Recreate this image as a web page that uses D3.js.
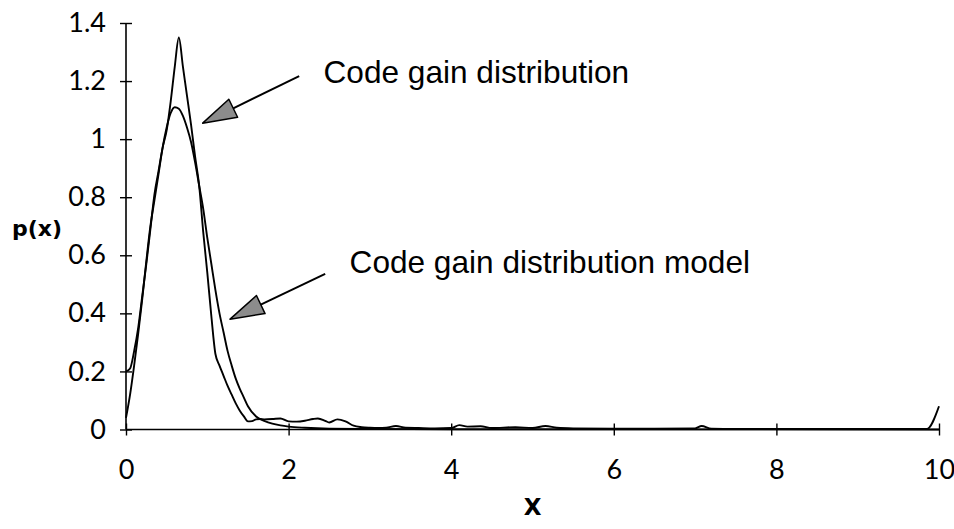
<!DOCTYPE html>
<html>
<head>
<meta charset="utf-8">
<script src="https://cdn.jsdelivr.net/npm/d3@7"></script>
<style>
  html, body { margin: 0; padding: 0; background: #fff; }
  svg { display: block; }
</style>
</head>
<body>
<svg id="chart" width="954" height="529"></svg>
<script>
// Measured code gain distribution (x, p(x))
const gainX = [0.00,0.05,0.10,0.15,0.20,0.25,0.30,0.35,0.40,0.45,0.50,0.55,0.60,0.65,0.70,0.75,0.80,0.85,0.90,0.95,
  1.00,1.05,1.10,1.15,1.20,1.25,1.30,1.35,1.40,1.45,1.50,1.55,1.60,1.65,1.70,1.80,1.90,2.00,2.10,2.20,
  2.30,2.36,2.45,2.50,2.60,2.70,2.80,2.90,3.00,3.10,3.20,3.32,3.44,3.60,3.80,4.00,4.10,4.20,4.36,4.50,
  4.79,5.00,5.16,5.30,5.50,6.00,6.50,7.00,7.08,7.20,7.50,8.00,9.00,9.85,10.00];
const gainP = [0.20,0.21,0.27,0.35,0.46,0.57,0.69,0.81,0.89,0.97,1.03,1.13,1.25,1.35,1.25,1.15,1.05,0.94,0.84,0.68,
  0.54,0.39,0.26,0.22,0.185,0.15,0.12,0.09,0.065,0.045,0.028,0.029,0.035,0.036,0.035,0.036,0.038,0.028,0.027,0.030,
  0.036,0.038,0.030,0.024,0.035,0.028,0.013,0.008,0.006,0.005,0.006,0.012,0.006,0.005,0.004,0.005,0.015,0.010,0.011,0.005,
  0.008,0.005,0.012,0.006,0.004,0.003,0.003,0.004,0.012,0.003,0.002,0.002,0.002,0.002,0.08];

// Fitted model of the code gain distribution
const modelX = [0.00,0.05,0.10,0.15,0.20,0.25,0.30,0.35,0.40,0.45,0.50,0.55,0.60,0.65,0.70,0.75,0.80,0.85,0.90,0.95,
  1.00,1.05,1.10,1.15,1.20,1.25,1.30,1.35,1.40,1.45,1.50,1.60,1.70,1.80,1.90,2.00,2.20,2.50,3.00,4.00,10.00];
const modelP = [0.04,0.12,0.22,0.33,0.45,0.58,0.70,0.79,0.88,0.97,1.04,1.09,1.11,1.105,1.08,1.04,0.99,0.92,0.84,0.76,
  0.66,0.57,0.48,0.40,0.335,0.27,0.22,0.175,0.14,0.11,0.08,0.045,0.03,0.02,0.014,0.01,0.006,0.003,0.002,0.001,0.0];

// Axis ticks and labels
const xTicks = [0, 2, 4, 6, 8, 10];
const xTickLabels = ["0", "2", "4", "6", "8", "10"];
const yTicks = [0, 0.2, 0.4, 0.6, 0.8, 1.0, 1.2, 1.4];
const yTickLabels = ["0", "0.2", "0.4", "0.6", "0.8", "1", "1.2", "1.4"];

// Callouts: label text, text anchor point, arrow tail and tip (data units)
const calloutText = ["Code gain distribution", "Code gain distribution model"];
const calloutTextPos = [[2.43, 1.192], [2.75, 0.54]];
const calloutTail = [[2.13, 1.217], [2.45, 0.536]];
const calloutTip = [[0.943, 1.055], [1.28, 0.38]];

const svg = d3.select("#chart");
const plotLeft = 126, plotRight = 939, plotTop = 23, plotBottom = 429.5;

const x = d3.scaleLinear().domain([0, 10]).range([plotLeft, plotRight]);
const y = d3.scaleLinear().domain([0, 1.4]).range([plotBottom, plotTop]);

const tickFont = "Lato, 'Liberation Sans', sans-serif";

// Y axis
const yAxis = svg.append("g")
  .attr("transform", `translate(${plotLeft},0)`)
  .call(d3.axisLeft(y).tickValues(yTicks).tickFormat((d, i) => yTickLabels[i]).tickSize(6).tickPadding(14));
yAxis.select(".domain").attr("stroke", "#000").attr("stroke-width", 1.6).attr("d", `M0,${plotTop}V${plotBottom}`);
yAxis.selectAll(".tick line").attr("x1", -6).attr("x2", 6).attr("stroke", "#000").attr("stroke-width", 1.4);
yAxis.selectAll(".tick text").attr("font-family", tickFont).attr("font-size", 27).attr("fill", "#000");

// X axis
const xAxis = svg.append("g")
  .attr("transform", `translate(0,${plotBottom})`)
  .call(d3.axisBottom(x).tickValues(xTicks).tickFormat((d, i) => xTickLabels[i]).tickSize(6).tickPadding(38));
xAxis.select(".domain").attr("stroke", "#000").attr("stroke-width", 1.6).attr("d", `M${plotLeft},0H${plotRight}`);
xAxis.selectAll(".tick line").attr("y1", -6).attr("y2", 6).attr("stroke", "#000").attr("stroke-width", 1.4);
xAxis.selectAll(".tick text").attr("font-family", tickFont).attr("font-size", 27).attr("fill", "#000")
  .attr("dy", "0.2em");

// Curves
const line = d3.line().x(d => x(d[0])).y(d => y(d[1])).curve(d3.curveMonotoneX);
const gainPts = gainX.map((v, i) => [v, gainP[i]]);
const modelPts = modelX.map((v, i) => [v, modelP[i]]);

svg.append("path").datum(modelPts).attr("d", line)
  .attr("fill", "none").attr("stroke", "#000").attr("stroke-width", 1.9).attr("stroke-linejoin", "round");
svg.append("path").datum(gainPts).attr("d", line)
  .attr("fill", "none").attr("stroke", "#000").attr("stroke-width", 1.9).attr("stroke-linejoin", "round");

// Axis titles
svg.append("text").attr("x", 12).attr("y", 236)
  .attr("font-family", "'DejaVu Sans', sans-serif").attr("font-weight", "bold").attr("font-size", 22)
  .text("p(x)");
svg.append("text").attr("x", (plotLeft + plotRight) / 2).attr("y", 515).attr("text-anchor", "middle")
  .attr("font-family", "'DejaVu Sans', sans-serif").attr("font-weight", "bold").attr("font-size", 23)
  .text("X");

// Callout labels with arrows
calloutText.forEach((t, i) => {
  svg.append("text")
    .attr("x", x(calloutTextPos[i][0])).attr("y", y(calloutTextPos[i][1]))
    .attr("font-family", "'Liberation Sans', Arial, sans-serif").attr("font-size", 31.6).attr("fill", "#000")
    .text(t);

  const tx = x(calloutTail[i][0]), ty = y(calloutTail[i][1]);
  const px = x(calloutTip[i][0]), py = y(calloutTip[i][1]);
  const dx = tx - px, dy = ty - py, len = Math.hypot(dx, dy);
  const ux = dx / len, uy = dy / len;
  const headLen = 34, headHalf = 10;
  const bx = px + ux * headLen, by = py + uy * headLen;

  svg.append("line").attr("x1", tx).attr("y1", ty).attr("x2", bx).attr("y2", by)
    .attr("stroke", "#000").attr("stroke-width", 2);
  svg.append("polygon")
    .attr("points", [[px, py], [bx - uy * headHalf, by + ux * headHalf], [bx + uy * headHalf, by - ux * headHalf]]
      .map(p => p.join(",")).join(" "))
    .attr("fill", "#8c8c8c").attr("stroke", "#000").attr("stroke-width", 1.5).attr("stroke-linejoin", "round");
});
</script>
</body>
</html>
